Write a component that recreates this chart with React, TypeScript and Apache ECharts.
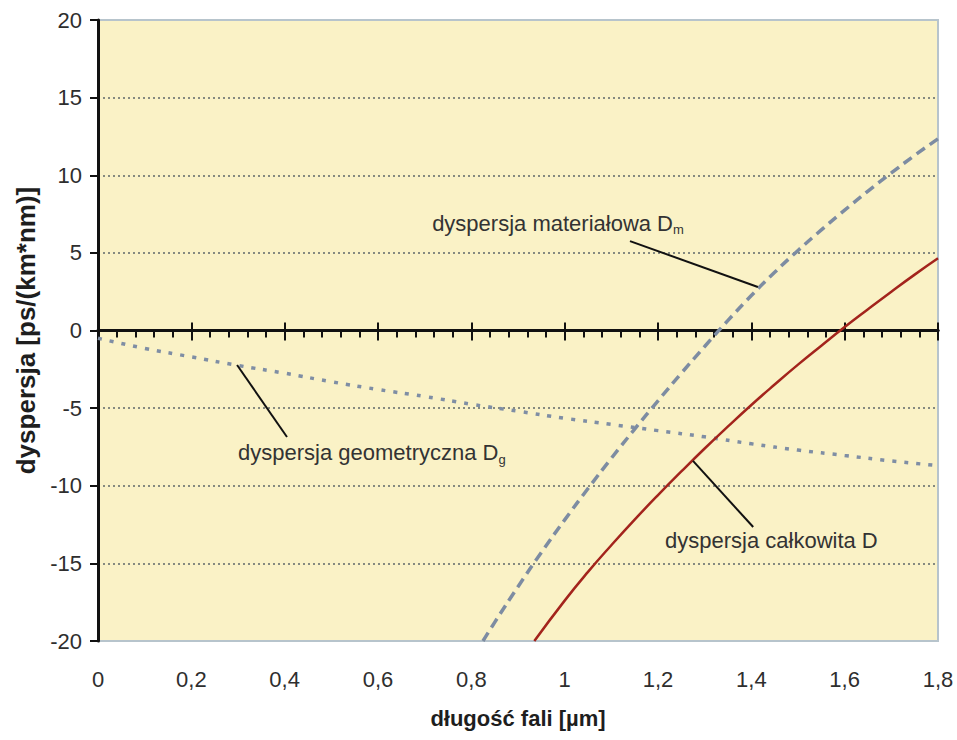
import React, { useEffect, useRef } from "react";
import * as echarts from "echarts";

// wavelength [µm] and dispersion [ps/(km*nm)]
const geomX = [0, 0.1, 0.2, 0.3, 0.4, 0.5, 0.6, 0.7, 0.8, 0.9, 1.0, 1.1, 1.2, 1.3, 1.4, 1.5, 1.6, 1.7, 1.8];
const geomY = [-0.5, -1.15, -1.7, -2.25, -2.75, -3.3, -3.8, -4.25, -4.75, -5.2, -5.65, -6.05, -6.45, -6.85, -7.3, -7.7, -8.05, -8.4, -8.7];

const matX = [0.825, 0.85, 0.9, 0.95, 1.0, 1.05, 1.1, 1.15, 1.2, 1.25, 1.3, 1.35, 1.4, 1.45, 1.5, 1.55, 1.6, 1.65, 1.7, 1.75, 1.8];
const matY = [-20, -18.8, -16.5, -14.3, -12.2, -10.18, -8.23, -6.35, -4.53, -2.75, -1.03, 0.65, 2.25, 3.75, 5.15, 6.48, 7.75, 8.98, 10.15, 11.28, 12.35];

const totX = [0.935, 1.0, 1.05, 1.1, 1.15, 1.2, 1.25, 1.3, 1.35, 1.4, 1.45, 1.5, 1.55, 1.6, 1.65, 1.7, 1.75, 1.8];
const totY = [-20, -17.4, -15.55, -13.83, -12.18, -10.6, -9.08, -7.6, -6.18, -4.8, -3.48, -2.2, -0.98, 0.22, 1.37, 2.5, 3.6, 4.65];

const xTicks = { min: 0, max: 1.8, interval: 0.2 };
const yTicks = { min: -20, max: 20, interval: 5 };

// annotations in data coordinates: label, subscript, text anchor, leader line start/end
const annLabels = ["dyspersja materiałowa D", "dyspersja geometryczna D", "dyspersja całkowita D"];
const annSubs = ["m", "g", ""];
const annTextPos = [[0.716, 6.92], [0.3, -7.89], [1.215, -13.5]];
const annLineFrom = [[1.14, 5.76], [0.298, -2.22], [1.275, -8.4]];
const annLineTo = [[1.414, 2.8], [0.405, -6.86], [1.404, -12.66]];

const FONT = "'Liberation Sans', Arial, Helvetica, sans-serif";

const zip = (xs: number[], ys: number[]) => xs.map((x, i) => [x, ys[i]]);

export default function App() {
  const ref = useRef<HTMLDivElement>(null);
  useEffect(() => {
    if (!ref.current) return;
    const chart = echarts.init(ref.current, null, { renderer: "svg" });
    const fmt = (v: number) => String(Number(v.toFixed(1))).replace(".", ",");
    const option: any = {
      animation: false,
      backgroundColor: "#ffffff",
      grid: {
        left: 98,
        right: 19,
        top: 20,
        bottom: 99,
        show: true,
        backgroundColor: "#faf2c6",
        borderColor: "#b7c4cc",
        borderWidth: 2,
      },
      xAxis: [
        {
          type: "value",
          ...xTicks,
          position: "bottom",
          axisLine: { show: false, onZero: false },
          axisTick: { show: false },
          minorTick: { show: false },
          splitLine: { show: false },
          axisLabel: {
            formatter: fmt,
            fontSize: 22,
            fontFamily: FONT,
            color: "#2e2e2e",
            margin: 27,
          },
          name: "długość fali [µm]",
          nameLocation: "middle",
          nameGap: 66,
          nameTextStyle: { fontSize: 22, fontWeight: "bold", fontFamily: FONT, color: "#1e1e1e" },
        },
        {
          type: "value",
          ...xTicks,
          position: "bottom",
          axisLine: { show: true, onZero: true, onZeroAxisIndex: 0, lineStyle: { color: "#111", width: 3 } },
          axisTick: { show: true, length: 10, lineStyle: { color: "#111", width: 2 } },
          minorTick: { show: true, splitNumber: 5, length: 7, lineStyle: { color: "#111", width: 2 } },
          axisLabel: { show: false },
          splitLine: { show: false },
        },
        {
          type: "value",
          ...xTicks,
          position: "top",
          axisLine: { show: true, onZero: true, onZeroAxisIndex: 0, lineStyle: { color: "#111", width: 3 } },
          axisTick: { show: true, length: 8, lineStyle: { color: "#111", width: 2 } },
          minorTick: { show: false },
          axisLabel: { show: false },
          splitLine: { show: false },
        },
      ],
      yAxis: {
        type: "value",
        ...yTicks,
        axisLine: { show: true, lineStyle: { color: "#111", width: 3 } },
        axisTick: { show: true, length: 8, lineStyle: { color: "#111", width: 2 } },
        axisLabel: { fontSize: 22, fontFamily: FONT, color: "#2e2e2e", margin: 16 },
        splitLine: {
          show: true,
          showMinLine: false,
          showMaxLine: false,
          lineStyle: { color: "#858a80", width: 2, type: [2, 3] },
        },
        name: "dyspersja [ps/(km*nm)]",
        nameLocation: "middle",
        nameGap: 55,
        nameTextStyle: { fontSize: 26, fontWeight: "bold", fontFamily: FONT, color: "#1e1e1e" },
      },
      series: [
        {
          name: "dyspersja geometryczna",
          type: "line",
          xAxisIndex: 0,
          data: zip(geomX, geomY),
          smooth: true,
          showSymbol: false,
          lineStyle: { color: "#7f8ea4", width: 3.5, type: [4, 8] },
          z: 3,
        },
        {
          name: "dyspersja materiałowa",
          type: "line",
          xAxisIndex: 0,
          data: zip(matX, matY),
          smooth: true,
          showSymbol: false,
          lineStyle: { color: "#7d8ca2", width: 3.5, type: [10, 6] },
          z: 3,
        },
        {
          name: "dyspersja całkowita",
          type: "line",
          xAxisIndex: 0,
          data: zip(totX, totY),
          smooth: true,
          showSymbol: false,
          lineStyle: { color: "#a3241c", width: 2.5 },
          z: 4,
        },
      ],
    };
    chart.setOption(option);

    const px = (p: number[]) => chart.convertToPixel({ gridIndex: 0 }, p) as number[];
    const graphics: any[] = [];
    annLabels.forEach((label, i) => {
      const a = px(annLineFrom[i]);
      const b = px(annLineTo[i]);
      graphics.push({
        type: "line",
        shape: { x1: a[0], y1: a[1], x2: b[0], y2: b[1] },
        style: { stroke: "#111", lineWidth: 2 },
        z: 10,
      });
      const t = px(annTextPos[i]);
      graphics.push({
        type: "text",
        x: t[0],
        y: t[1],
        z: 10,
        style: {
          text: annSubs[i] ? `{a|${label}}{b|${annSubs[i]}}` : `{a|${label}}`,
          align: "left",
          verticalAlign: "middle",
          rich: {
            a: { fontSize: 22, fontFamily: FONT, fill: "#333", lineHeight: 26 },
            b: { fontSize: 13, fontFamily: FONT, fill: "#333", lineHeight: 14, verticalAlign: "bottom" },
          },
        },
      });
    });
    chart.setOption({ graphic: graphics });

    return () => chart.dispose();
  }, []);
  return (
    <div
      ref={ref}
      style={{ position: "fixed", left: 0, top: 0, width: 957, height: 740, background: "#fff" }}
    />
  );
}
